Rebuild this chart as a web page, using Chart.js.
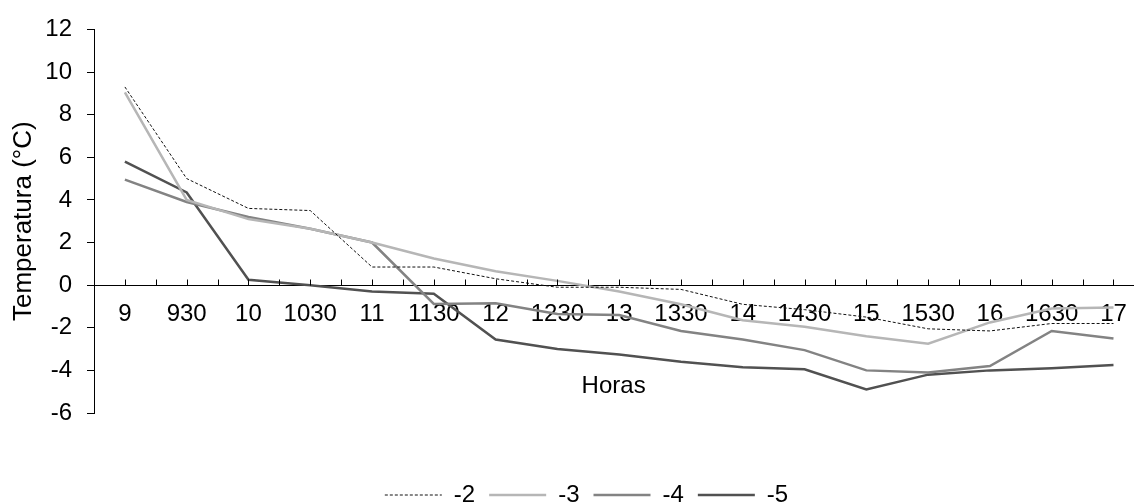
<!DOCTYPE html>
<html>
<head>
<meta charset="utf-8">
<title>Temperatura por hora</title>
<script src="https://cdn.jsdelivr.net/npm/chart.js@4.4.0/dist/chart.umd.min.js"></script>
<style>
  html, body { margin: 0; padding: 0; background: #fff; }
  canvas { display: block; }
</style>
</head>
<body>
<canvas id="tempChart" width="1142" height="504"></canvas>
<script>
// Hours (x categories)
const horas = ["9", "930", "10", "1030", "11", "1130", "12", "1230", "13", "1330", "14", "1430", "15", "1530", "16", "1630", "17"];

// Series names
const serieNames = ["-2", "-3", "-4", "-5"];

// Temperature readings (ºC)
const serieA = [9.3, 5.0, 3.6, 3.5, 0.85, 0.85, 0.3, -0.1, -0.1, -0.2, -0.9, -1.15, -1.5, -2.05, -2.15, -1.8, -1.8];
const serieB = [9.05, 4.0, 3.1, 2.65, 2.0, 1.25, 0.65, 0.2, -0.3, -0.9, -1.65, -1.95, -2.4, -2.75, -1.75, -1.1, -1.05];
const serieC = [4.95, 3.9, 3.2, 2.65, 2.0, -0.88, -0.85, -1.35, -1.4, -2.15, -2.55, -3.05, -4.0, -4.1, -3.8, -2.15, -2.5];
const serieD = [5.8, 4.35, 0.25, 0.0, -0.3, -0.4, -2.55, -3.0, -3.25, -3.6, -3.85, -3.95, -4.9, -4.2, -4.0, -3.9, -3.75];

// y axis range
const yMin = -6;
const yMax = 12;
const yStep = 2;

Chart.defaults.font.family = "'Liberation Sans', Arial, sans-serif";
Chart.defaults.font.size = 24;
Chart.defaults.color = "#000";

function toPoints(values) {
    return values.map((v, i) => ({ x: i, y: v }));
}

// little tick marks pointing up from the x axis (at each hour and half-way)
const xTickMarks = {
    id: "xTickMarks",
    afterDatasetsDraw(chart) {
        const xs = chart.scales.x;
        const ys = chart.scales.y;
        const ctx = chart.ctx;
        const y0 = Math.round(ys.getPixelForValue(0)) + 0.5;
        ctx.save();
        ctx.strokeStyle = "#000";
        ctx.lineWidth = 1;
        ctx.beginPath();
        xs.ticks.forEach(t => {
            if (t.value <= -0.5) return;
            const px = Math.round(xs.getPixelForValue(t.value)) + 0.5;
            ctx.moveTo(px, y0);
            ctx.lineTo(px, y0 - 6);
        });
        ctx.stroke();
        ctx.restore();
    }
};

// legend entries drawn as short lines, keeping the dash of the dotted series
function legendLabels(chart) {
    const items = Chart.defaults.plugins.legend.labels.generateLabels(chart);
    items.forEach(item => {
        const ds = chart.data.datasets[item.datasetIndex];
        item.lineDash = ds.borderDash || [];
        item.strokeStyle = ds.borderColor;
        item.lineWidth = ds.borderWidth;
    });
    return items;
}

const ctx = document.getElementById("tempChart").getContext("2d");

new Chart(ctx, {
    type: "line",
    data: {
        datasets: [
            {
                label: serieNames[0],
                data: toPoints(serieA),
                borderColor: "#111",
                borderWidth: 1,
                borderDash: [3, 2],
                xAxisID: "x"
            },
            {
                label: serieNames[1],
                data: toPoints(serieB),
                borderColor: "#b6b6b6",
                borderWidth: 2.5,
                xAxisID: "x"
            },
            {
                label: serieNames[2],
                data: toPoints(serieC),
                borderColor: "#838383",
                borderWidth: 2.5,
                xAxisID: "x"
            },
            {
                label: serieNames[3],
                data: toPoints(serieD),
                borderColor: "#515151",
                borderWidth: 2.5,
                xAxisID: "x"
            }
        ]
    },
    options: {
        responsive: false,
        animation: false,
        elements: {
            point: { radius: 0, hoverRadius: 0 },
            line: { tension: 0, fill: false }
        },
        layout: {
            padding: { top: 26, left: 31, right: 0, bottom: -13 }
        },
        scales: {
            x: {
                type: "linear",
                position: { y: 0 },
                min: -0.5,
                max: 16.32,
                grid: { display: true, drawOnChartArea: false, drawTicks: false },
                border: { display: true, color: "#000", width: 1 },
                ticks: {
                    stepSize: 0.5,
                    includeBounds: false,
                    autoSkip: false,
                    maxRotation: 0,
                    minRotation: 0,
                    padding: 15,
                    color: "#000",
                    callback: (value) => (Number.isInteger(value) && value >= 0 && value < horas.length) ? horas[value] : ""
                },
                title: {
                    display: true,
                    text: "Horas",
                    color: "#000",
                    padding: { top: 0, bottom: 4 }
                },
                afterFit(scale) { scale.height = 120; }
            },
            spacer: {
                type: "linear",
                axis: "x",
                position: "bottom",
                display: true,
                ticks: { display: false },
                grid: { display: false },
                border: { display: false },
                afterFit(scale) { scale.height = 56; }
            },
            y: {
                min: yMin,
                max: yMax,
                grid: { display: true, drawOnChartArea: false, drawTicks: true, tickLength: 7, color: "#000" },
                border: { display: true, color: "#000", width: 1 },
                ticks: { stepSize: yStep, padding: 15, color: "#000" },
                title: {
                    display: true,
                    text: "Temperatura (°C)",
                    color: "#000",
                    font: { size: 26 },
                    padding: { top: -23, bottom: 0 }
                },
                afterFit(scale) { scale.width = 63; }
            }
        },
        plugins: {
            legend: {
                position: "bottom",
                labels: {
                    usePointStyle: true,
                    pointStyle: "line",
                    pointStyleWidth: 57,
                    padding: 14,
                    color: "#000",
                    generateLabels: legendLabels
                }
            },
            tooltip: { enabled: false }
        }
    },
    plugins: [xTickMarks]
});
</script>
</body>
</html>
